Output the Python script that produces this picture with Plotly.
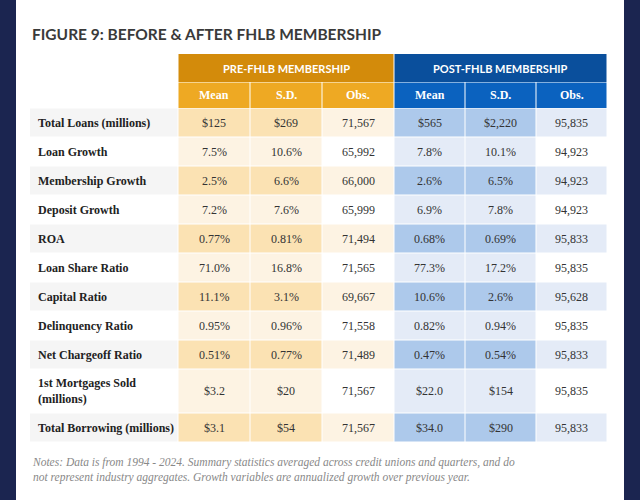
import plotly.graph_objects as go

title = "FIGURE 9: BEFORE & AFTER FHLB MEMBERSHIP"
groups = ["PRE-FHLB MEMBERSHIP", "POST-FHLB MEMBERSHIP"]
sub_headers = ["Mean", "S.D.", "Obs.", "Mean", "S.D.", "Obs."]
row_labels = ["Total Loans (millions)", "Loan Growth", "Membership Growth", "Deposit Growth", "ROA",
              "Loan Share Ratio", "Capital Ratio", "Delinquency Ratio", "Net Chargeoff Ratio",
              "1st Mortgages Sold<br>(millions)", "Total Borrowing (millions)"]
pre_mean = ["$125", "7.5%", "2.5%", "7.2%", "0.77%", "71.0%", "11.1%", "0.95%", "0.51%", "$3.2", "$3.1"]
pre_sd = ["$269", "10.6%", "6.6%", "7.6%", "0.81%", "16.8%", "3.1%", "0.96%", "0.77%", "$20", "$54"]
pre_obs = ["71,567", "65,992", "66,000", "65,999", "71,494", "71,565", "69,667", "71,558", "71,489", "71,567", "71,567"]
post_mean = ["$565", "7.8%", "2.6%", "6.9%", "0.68%", "77.3%", "10.6%", "0.82%", "0.47%", "$22.0", "$34.0"]
post_sd = ["$2,220", "10.1%", "6.5%", "7.8%", "0.69%", "17.2%", "2.6%", "0.94%", "0.54%", "$154", "$290"]
post_obs = ["95,835", "94,923", "94,923", "94,923", "95,833", "95,835", "95,628", "95,835", "95,833", "95,835", "95,833"]
notes = ("Notes: Data is from 1994 - 2024. Summary statistics averaged across credit unions and quarters, and do<br>"
         "not represent industry aggregates. Growth variables are annualized growth over previous year.")

cols = [pre_mean, pre_sd, pre_obs, post_mean, post_sd, post_obs]
col_x = [30, 178, 250, 322, 394, 465, 536, 607]
row_h = [29, 29, 29, 29, 29, 29, 29, 29, 29, 44, 29]
top = 108

fig = go.Figure()
shapes, ann = [], []
def rect(x0, y0, x1, y1, c):
    shapes.append(dict(type="rect", xref="x", yref="y", x0=x0, y0=y0, x1=x1, y1=y1,
                       fillcolor=c, line=dict(width=0), layer="below"))

rect(16, 0, 624, 500, "white")
ann.append(dict(x=30, y=34, text="<b>" + title + "</b>", xanchor="left", showarrow=False,
                font=dict(family="Lato", size=15.5, color="#3a3a3a")))
for g, (x0, x1, c) in enumerate([(178, 394, "#d38b0b"), (394, 607, "#0a4f9c")]):
    rect(x0 + 0.5, 54, x1 - 0.5, 82, c)
    ann.append(dict(x=(x0 + x1) / 2, y=68, text="<b>" + groups[g] + "</b>", showarrow=False,
                    font=dict(family="Lato", size=11, color="white")))
for j, h in enumerate(sub_headers):
    c = "#eea923" if j < 3 else "#0b62bf"
    rect(col_x[j + 1] + 0.5, 82.5, col_x[j + 2] - 0.5, 108, c)
    ann.append(dict(x=(col_x[j + 1] + col_x[j + 2]) / 2, y=95, text="<b>" + h + "</b>", showarrow=False,
                    font=dict(family="Liberation Serif", size=12, color="white")))

y = top
for i, lab in enumerate(row_labels):
    h = row_h[i]
    dark = i % 2 == 0
    fills = (["#f5f5f5", "#fbe2b3", "#fbe2b3", "#fdf3e3", "#adc9eb", "#adc9eb", "#e4ebf7"] if dark else
             ["#ffffff", "#fdf3e3", "#fdf3e3", "#ffffff", "#e4ebf7", "#e4ebf7", "#ffffff"])
    for k in range(7):
        rect(col_x[k] + (0.5 if k else 0), y + 0.5, col_x[k + 1] - 0.5, y + h - 0.5, fills[k])
    cy = y + h / 2
    ann.append(dict(x=36, y=cy, text="<b>" + lab + "</b>", xanchor="left", showarrow=False, align="left",
                    font=dict(family="Liberation Serif", size=12, color="#222")))
    for j in range(6):
        ann.append(dict(x=(col_x[j + 1] + col_x[j + 2]) / 2, y=cy, text=cols[j][i], showarrow=False,
                        font=dict(family="Liberation Serif", size=12, color="#333")))
    y += h

ann.append(dict(x=30, y=470, text="<i>" + notes + "</i>", xanchor="left", showarrow=False, align="left",
                font=dict(family="Liberation Serif", size=11.5, color="#888")))

fig.update_layout(width=640, height=500, margin=dict(l=0, r=0, t=0, b=0),
                  paper_bgcolor="#1b2550", plot_bgcolor="#1b2550", shapes=shapes, annotations=ann,
                  xaxis=dict(range=[0, 640], visible=False, fixedrange=True),
                  yaxis=dict(range=[500, 0], visible=False, fixedrange=True), showlegend=False)
fig.write_html("out.html", config={"displayModeBar": False},
               post_script="document.body.style.margin='0';document.body.style.overflow='hidden';"
                           "document.body.style.background='#1b2550';")
